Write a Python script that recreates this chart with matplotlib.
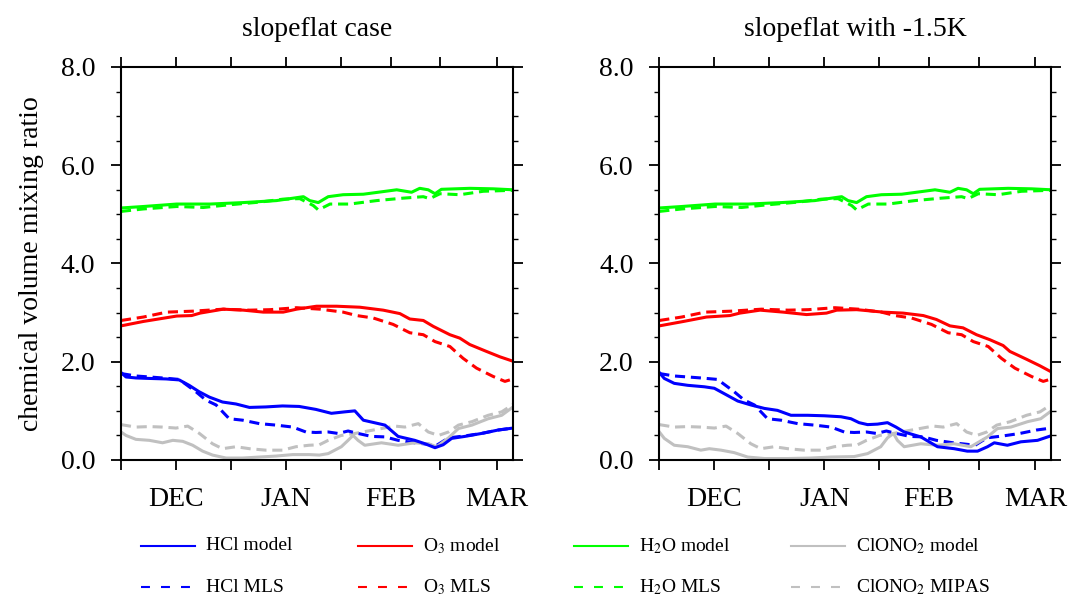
import matplotlib
matplotlib.use("Agg")
import matplotlib.pyplot as plt
from matplotlib.lines import Line2D

plt.rcParams['font.family'] = ['Liberation Serif', 'DejaVu Serif']
plt.rcParams['mathtext.fontset'] = 'stix'

# days since mid-November
tick_days = [0, 15.5, 31, 46.5, 62, 76, 90, 106]
tick_labels = ['', 'DEC', '', 'JAN', '', 'FEB', '', 'MAR']
xmax = 110.5

# ---- observations (same in both panels)
hcl_mls_d = [0, 4.2, 8, 11.7, 16.4, 21.1, 23.9, 26.8, 30.5, 34.3, 39, 43.7, 48.4, 52.1, 54.9,
             58.4, 61.2, 64, 66.8, 70.6, 74.4, 78.1, 82.8, 86.6, 89, 92.3, 96.9, 101.6, 106.3, 110.5]
hcl_mls = [1.76, 1.71, 1.69, 1.67, 1.64, 1.39, 1.22, 1.12, 0.84, 0.81, 0.74, 0.71, 0.67, 0.57, 0.56,
           0.57, 0.54, 0.59, 0.54, 0.48, 0.47, 0.40, 0.35, 0.32, 0.30, 0.45, 0.49, 0.54, 0.61, 0.65]

o3_mls_d = [0, 6.3, 12.9, 20.4, 28.8, 36.3, 42, 49.5, 56.1, 62.6, 66.4, 71.1, 76.7, 81.4, 85.2,
            88.5, 92.7, 96.4, 100.2, 104.9, 108.2, 110.5]
o3_mls = [2.84, 2.91, 3.01, 3.03, 3.07, 3.05, 3.06, 3.10, 3.07, 3.01, 2.94, 2.89, 2.76, 2.59, 2.55,
          2.41, 2.31, 2.07, 1.87, 1.70, 1.60, 1.65]

h2o_mls_d = [0, 6.3, 15.7, 23.2, 29.8, 39.2, 45.7, 50.4, 54.2, 55.6, 58.9, 64.5, 72, 79.5, 85.2,
             87, 89.9, 95.5, 102.1, 110.5]
h2o_mls = [5.06, 5.11, 5.16, 5.14, 5.19, 5.25, 5.31, 5.32, 5.18, 5.09, 5.21, 5.21, 5.28, 5.33, 5.36,
           5.32, 5.42, 5.40, 5.47, 5.49]

clono2_mipas_d = [0, 4.2, 8, 11.7, 15.5, 18.8, 22.1, 25.8, 28.6, 32.4, 36.2, 40.8, 45.5, 49.3, 53,
                  55.9, 58.4, 62.1, 65.9, 69.6, 73.4, 77.2, 80, 83.8, 86.6, 89.5, 92.3, 95.1, 98.9,
                  103.5, 107.3, 110.5]
clono2_mipas = [0.72, 0.67, 0.68, 0.67, 0.65, 0.69, 0.54, 0.33, 0.23, 0.27, 0.23, 0.20, 0.20, 0.27, 0.30,
                0.31, 0.40, 0.50, 0.54, 0.59, 0.64, 0.69, 0.67, 0.74, 0.57, 0.50, 0.57, 0.71, 0.78,
                0.91, 0.98, 1.13]

# ---- H2O model (same in both panels)
h2o_mod_d = [0, 6.3, 15.7, 25.1, 34.5, 43.8, 51.4, 53.2, 55.6, 58.4, 62.6, 68.3, 77.7, 81.9, 84.2,
             86.6, 88.5, 90.3, 98.3, 104.9, 110.5]
h2o_mod = [5.13, 5.16, 5.21, 5.21, 5.24, 5.28, 5.36, 5.28, 5.24, 5.36, 5.40, 5.41, 5.50, 5.45, 5.53,
           5.50, 5.42, 5.51, 5.53, 5.52, 5.50]

# ---- slopeflat case models
hcl_a_d = [0, 1.4, 4.2, 8, 12.7, 16.4, 19.2, 22, 24.9, 28.6, 32.4, 36.2, 40.8, 45.5, 50.2, 54.9, 59.3,
           63.1, 65.9, 68.3, 74.4, 78.1, 82.8, 85.7, 88.5, 90.8, 93.2, 96.9, 101.6, 106.3, 110.5]
hcl_a = [1.78, 1.69, 1.67, 1.66, 1.65, 1.63, 1.52, 1.39, 1.28, 1.18, 1.14, 1.07, 1.08, 1.10, 1.09, 1.03, 0.95,
         0.98, 1.00, 0.81, 0.71, 0.48, 0.40, 0.33, 0.25, 0.31, 0.44, 0.48, 0.54, 0.61, 0.65]

o3_a_d = [0, 6.3, 15.7, 19.9, 22.3, 28.8, 34.5, 40.1, 45.7, 49.5, 55.1, 60.8, 67.3, 73.9, 78.6, 81.4,
          85.2, 88, 92.7, 95.5, 98.3, 103, 106.8, 110.5]
o3_a = [2.73, 2.82, 2.93, 2.94, 2.99, 3.07, 3.05, 3.01, 3.01, 3.07, 3.13, 3.13, 3.11, 3.05, 2.98, 2.87,
        2.84, 2.72, 2.55, 2.48, 2.35, 2.21, 2.10, 2.01]

clono2_a_d = [0, 1.4, 4.2, 8, 11.7, 14.6, 17.4, 20.2, 23, 25.8, 29.6, 34.3, 39, 43.7, 48.4, 53, 55.9,
              58.4, 62.1, 64, 65.4, 66.8, 68.7, 73.4, 78.1, 82.8, 86.6, 89, 92.3, 95.1, 98.9, 103.5,
              107.3, 110.5]
clono2_a = [0.57, 0.50, 0.42, 0.40, 0.35, 0.40, 0.38, 0.30, 0.18, 0.10, 0.04, 0.04, 0.06, 0.08, 0.11, 0.11,
            0.10, 0.13, 0.27, 0.40, 0.50, 0.40, 0.30, 0.35, 0.30, 0.35, 0.33, 0.27, 0.45, 0.64, 0.71,
            0.84, 0.91, 1.08]

# ---- slopeflat with -1.5K models
hcl_b_d = [0, 1.4, 4.2, 8, 12.7, 15.5, 18.3, 22.1, 25.8, 29.6, 33.3, 37.1, 41.8, 46.5, 51.2, 54, 56.3,
           58.7, 61.5, 64.3, 66.7, 69, 73.7, 78.4, 83.1, 86.8, 89.7, 92.5, 94.4, 98.1, 101.9, 106.6, 110.3]
hcl_b = [1.78, 1.66, 1.56, 1.52, 1.49, 1.46, 1.35, 1.20, 1.12, 1.05, 1.01, 0.91, 0.91, 0.90, 0.88, 0.84, 0.76,
         0.72, 0.73, 0.76, 0.67, 0.57, 0.47, 0.27, 0.23, 0.18, 0.18, 0.27, 0.35, 0.30, 0.37, 0.40, 0.49]

o3_b_d = [0, 6.8, 13.3, 19.9, 22.7, 28.4, 34.9, 41.5, 47.1, 50, 55.6, 63.1, 68.7, 74.4, 78.1, 81.9,
          85.6, 89.4, 93.1, 96.9, 98.8, 103.5, 107.2, 110.3]
o3_b = [2.73, 2.82, 2.91, 2.94, 2.99, 3.05, 3.01, 2.96, 2.99, 3.05, 3.06, 3.01, 2.99, 2.94, 2.86, 2.73,
        2.69, 2.55, 2.45, 2.33, 2.21, 2.05, 1.92, 1.80]

clono2_b_d = [0, 1.4, 4.2, 8, 11.7, 14.1, 17.4, 21.1, 24.9, 29.6, 36.2, 42.7, 48.4, 54.9, 58.7, 62.4,
              64.3, 66, 67.1, 69, 73.7, 78.4, 83.1, 87.8, 92.5, 95.3, 99.1, 103.8, 107.5, 110.5]
clono2_b = [0.57, 0.44, 0.30, 0.27, 0.20, 0.23, 0.20, 0.15, 0.06, 0.03, 0.03, 0.04, 0.06, 0.07, 0.13, 0.27,
            0.45, 0.54, 0.40, 0.27, 0.33, 0.30, 0.33, 0.27, 0.47, 0.64, 0.67, 0.78, 0.84, 1.00]

titles = ['slopeflat case', 'slopeflat with -1.5K']

BLUE, RED, GREEN, GREY = '#0000ff', '#ff0000', '#00ff00', '#c0c0c0'
LW = 2.2
DASH = (0, (3.3, 1.9))

fig = plt.figure(figsize=(10.70, 5.97), dpi=100)
ax1 = fig.add_axes([0.1131, 0.2295, 0.3664, 0.6583])
ax2 = fig.add_axes([0.6162, 0.2295, 0.3664, 0.6583])

panels = [
    (ax1, (hcl_a_d, hcl_a), (o3_a_d, o3_a), (clono2_a_d, clono2_a)),
    (ax2, (hcl_b_d, hcl_b), (o3_b_d, o3_b), (clono2_b_d, clono2_b)),
]

for i, (ax, hcl, o3, clono2) in enumerate(panels):
    # observations
    ax.plot(clono2_mipas_d, clono2_mipas, color=GREY, lw=LW, ls=DASH)
    ax.plot(h2o_mls_d, h2o_mls, color=GREEN, lw=LW, ls=DASH)
    ax.plot(o3_mls_d, o3_mls, color=RED, lw=LW, ls=DASH)
    ax.plot(hcl_mls_d, hcl_mls, color=BLUE, lw=LW, ls=DASH)
    # model
    ax.plot(clono2[0], clono2[1], color=GREY, lw=LW)
    ax.plot(h2o_mod_d, h2o_mod, color=GREEN, lw=LW)
    ax.plot(o3[0], o3[1], color=RED, lw=LW)
    ax.plot(hcl[0], hcl[1], color=BLUE, lw=LW)

    ax.set_xlim(0, xmax)
    ax.set_ylim(0, 8)
    ax.set_xticks(tick_days)
    ax.set_xticklabels(tick_labels, fontsize=20)
    ax.set_yticks([0, 2, 4, 6, 8])
    ax.set_yticklabels(['0.0', '2.0', '4.0', '6.0', '8.0'], fontsize=20)
    ax.set_yticks([0.5, 1, 1.5, 2.5, 3, 3.5, 4.5, 5, 5.5, 6.5, 7, 7.5], minor=True)
    ax.tick_params(which='major', direction='out', length=7.5, width=1.3,
                   top=True, right=True, pad=11)
    ax.tick_params(axis='x', which='major', pad=12)
    ax.tick_params(which='minor', direction='out', length=3.8, width=1.0,
                   right=True, left=True)
    for s in ax.spines.values():
        s.set_linewidth(1.5)
    ax.set_title(titles[i], fontsize=20, pad=22)

ax1.set_ylabel('chemical volume mixing ratio', fontsize=20, labelpad=12)

# legend drawn in figure coordinates
leg_cols = [141, 358, 574, 791]
leg_rows = [546, 587]
leg_colors = [BLUE, RED, GREEN, GREY]
leg_model = ['HCl model', r'O$_3$ model', r'H$_2$O model', r'ClONO$_2$ model']
leg_obs = ['HCl MLS', r'O$_3$ MLS', r'H$_2$O MLS', r'ClONO$_2$ MIPAS']
W, H = 1070.0, 597.0
for j in range(4):
    for r, (labels, ls) in enumerate([(leg_model, '-'), (leg_obs, (0, (4.3, 5.3)))]):
        x0 = leg_cols[j]
        y = 1 - leg_rows[r] / H
        fig.add_artist(Line2D([x0 / W, (x0 + 54) / W], [y, y], color=leg_colors[j],
                              lw=1.5, ls=ls, transform=fig.transFigure))
        fig.text((x0 + 65) / W, y, labels[j], fontsize=14, va='center', ha='left')

fig.savefig('out.png', dpi=100)
